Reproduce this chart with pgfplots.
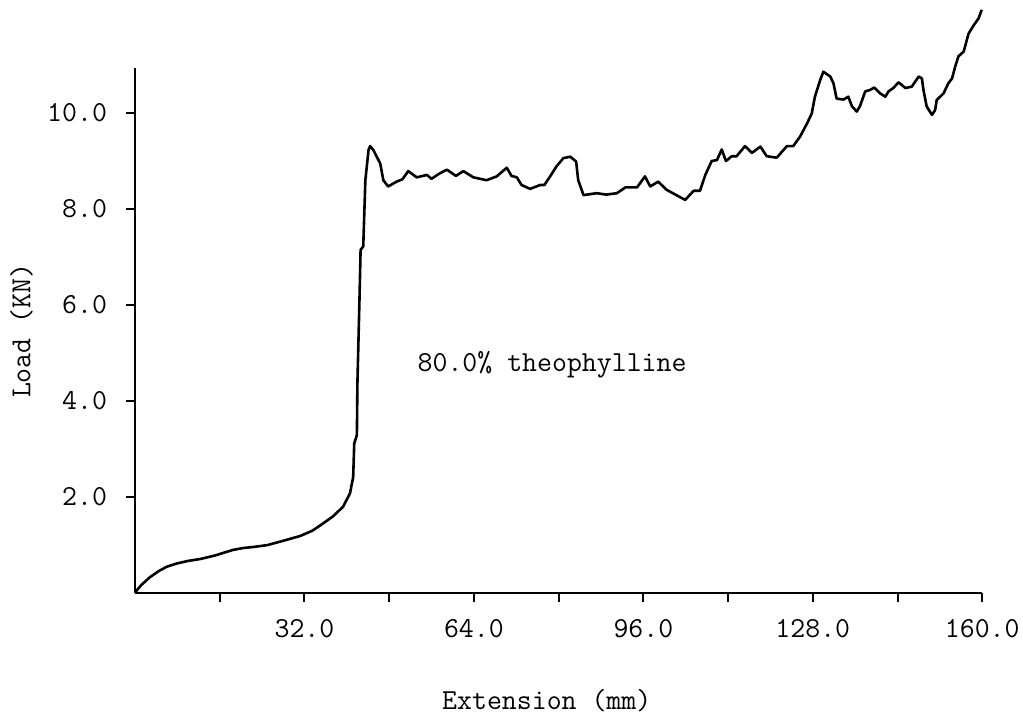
\documentclass[border=0pt]{standalone}
\usepackage{pgfplots}
\pgfplotsset{compat=1.18}
\newcommand{\tw}{\ttfamily\fontsize{14.5}{17}\selectfont}
\begin{document}
\begin{tikzpicture}
\begin{axis}[
  scale only axis, width=423.5pt, height=262.3pt,
  xmin=0, xmax=160, ymin=0, ymax=10.93,
  axis x line*=bottom, axis y line*=left,
  clip=false,
  tick align=outside, major tick length=4.5pt,
  xtick={16,32,48,64,80,96,112,128,144,160},
  xticklabels={,32.0,,64.0,,96.0,,128.0,,160.0},
  ytick={2,4,6,8,10},
  yticklabels={2.0,4.0,6.0,8.0,10.0},
  tick style={black, line width=1pt},
  axis line style={black, line width=1.1pt},
  every tick label/.append style={font=\tw},
  xticklabel style={yshift=-5pt},
  yticklabel style={xshift=-6pt},
  xlabel={Extension (mm)}, ylabel={Load (KN)},
  every axis x label/.style={at={(rel axis cs:0.486,-0.204)}, anchor=center, font=\tw},
  every axis y label/.style={at={(rel axis cs:-0.134,0.5)}, anchor=center, rotate=90, font=\tw},
]
\addplot[black, line width=1.3pt, line join=round] coordinates {
(0,0) (0.5,0.08) (1.2,0.17) (2.8,0.33) (4.5,0.46) (6.0,0.55) (8,0.62) (10,0.67)
(12.3,0.71) (15,0.78) (18.5,0.90) (20.5,0.94) (22.3,0.96) (25,1.00)
(28,1.09) (31.2,1.19) (33.5,1.30) (35.5,1.45) (37.4,1.60) (39.3,1.80)
(40.6,2.08) (41.2,2.42) (41.4,3.12) (41.9,3.29) (42.0,4.37) (42.4,6.17)
(42.6,7.15) (43.1,7.22) (43.5,8.6) (44.1,9.23) (44.4,9.31) (45.0,9.23)
(46.3,8.95) (46.9,8.60) (47.8,8.47) (49.4,8.57) (50.5,8.62) (51.6,8.79) (53.2,8.66)
(55.1,8.71) (56.0,8.63) (57.5,8.74) (58.9,8.82) (60.6,8.69) (62.0,8.79) (63.9,8.66)
(66.4,8.60) (68.3,8.68) (70.2,8.86) (71.1,8.69) (72.1,8.66) (73.0,8.50)
(74.6,8.42) (76.5,8.50) (77.3,8.50) (78.4,8.68) (79.6,8.89) (80.9,9.06)
(82.2,9.09) (83.3,8.99) (83.7,8.60) (84.7,8.29) (87.2,8.33) (89.0,8.30)
(91.0,8.33) (92.6,8.45) (94.8,8.45) (96.3,8.68) (97.3,8.47) (98.8,8.57)
(100.4,8.40) (103.9,8.19) (105.5,8.38) (106.7,8.38) (107.7,8.71) (108.9,9.0)
(109.9,9.02) (110.8,9.24) (111.6,9.00) (112.7,9.10) (113.6,9.10) (115.2,9.31)
(116.5,9.17) (118.1,9.30) (119.3,9.10) (121.2,9.07) (123.1,9.31) (124.3,9.31)
(125.6,9.51) (126.9,9.78) (127.8,9.99) (128.4,10.34) (129.4,10.69) (130.0,10.86)
(131.3,10.76) (131.9,10.62) (132.5,10.30) (133.8,10.28) (134.7,10.34) (135.4,10.14)
(136.3,10.03) (136.9,10.14) (137.9,10.45) (138.8,10.48) (139.6,10.53) (140.7,10.41)
(141.7,10.34) (142.3,10.45) (143.2,10.52) (144.2,10.64) (145.5,10.52) (146.7,10.55)
(148.0,10.76) (148.6,10.72) (148.9,10.48) (149.5,10.14) (150.5,9.96) (151.1,10.06)
(151.4,10.27) (152.7,10.41) (153.6,10.62) (154.3,10.72) (154.9,10.97) (155.5,11.18)
(156.5,11.28) (157.4,11.65) (158.4,11.83) (159.3,11.97) (159.9,12.15)
};
\node[anchor=base west, font=\tw, inner sep=0pt] at (axis cs:53.3,4.62) {80.0\% theophylline};
\coordinate (BL) at (axis cs:-25.5,-2.5);
\coordinate (TR) at (axis cs:167.7,12.354);
\end{axis}
\pgfresetboundingbox
\path (BL) rectangle (TR);
\end{tikzpicture}
\end{document}
